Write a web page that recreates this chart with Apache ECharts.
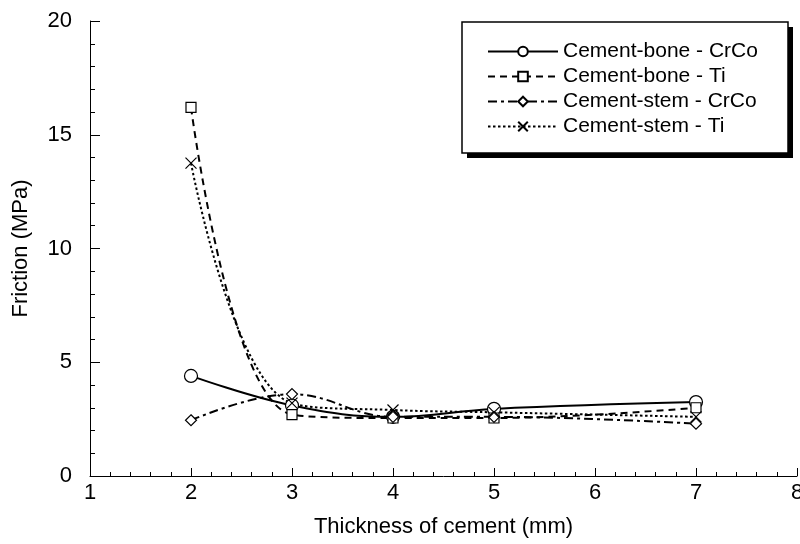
<!DOCTYPE html>
<html><head><meta charset="utf-8">
<script src="https://cdn.jsdelivr.net/npm/echarts@6/dist/echarts.min.js"></script>
<style>html,body{margin:0;padding:0;background:#fff}#c{width:800px;height:544px}</style>
</head><body><div id="c"></div>
<script>
const thickness = [2, 3, 4, 5, 7];
const boneCrCo = [4.4, 3.1, 2.6, 2.95, 3.25];
const boneTi = [16.2, 2.7, 2.55, 2.55, 3.0];
const stemCrCo = [2.45, 3.6, 2.6, 2.6, 2.3];
const stemTi = [13.75, 3.2, 2.9, 2.8, 2.6];
const seriesNames = ['Cement-bone - CrCo', 'Cement-bone - Ti', 'Cement-stem - CrCo', 'Cement-stem - Ti'];

const font = 'Liberation Sans, Arial, sans-serif';
const crossPath = 'path://M0,0L10,10M10,0L0,10';
function pts(arr){ return thickness.map((x,i)=>[x, arr[i]]); }
function mk(name, data, dash, symbol, size){
  return {
    name, type:'line', data: pts(data), smooth: 0.4,
    symbol, symbolSize: size, showSymbol: true,
    lineStyle: {color:'#000', width: 2, type: dash},
    itemStyle: {color: symbol===crossPath ? 'none' : '#fff', borderColor:'#000', borderWidth: 1.2},
    emphasis: {disabled: true}
  };
}
const chart = echarts.init(document.getElementById('c'));
chart.setOption({
  animation: false,
  grid: {left: 90, right: 3, top: 21, bottom: 68, containLabel: false, outerBoundsMode: 'none'},
  xAxis: {
    type: 'value', min: 1, max: 8, interval: 1,
    name: 'Thickness of cement (mm)', nameLocation: 'middle', nameGap: 40,
    nameTextStyle: {fontFamily: font, fontSize: 22, color: '#000'},
    axisLine: {lineStyle: {color: '#000', width: 1}},
    axisTick: {inside: true, length: 8, lineStyle: {color: '#000'}},
    minorTick: {show: true, splitNumber: 5, length: 4, lineStyle: {color: '#000'}},
    axisLabel: {fontFamily: font, fontSize: 22, color: '#000', margin: 6},
    splitLine: {show: false}
  },
  yAxis: {
    type: 'value', min: 0, max: 20, interval: 5,
    name: 'Friction (MPa)', nameLocation: 'middle', nameGap: 58,
    nameTextStyle: {fontFamily: font, fontSize: 22, color: '#000'},
    axisLine: {show: true, lineStyle: {color: '#000', width: 1}},
    axisTick: {show: true, inside: true, length: 10, lineStyle: {color: '#000'}},
    minorTick: {show: true, splitNumber: 5, length: 5, lineStyle: {color: '#000'}},
    axisLabel: {fontFamily: font, fontSize: 22, color: '#000', margin: 18},
    splitLine: {show: false}
  },
  graphic: [
    {type: 'rect', z: 1, shape: {x: 467, y: 27, width: 326, height: 131}, style: {fill: '#000'}},
    {type: 'rect', z: 2, shape: {x: 462, y: 22, width: 326, height: 131}, style: {fill: '#fff', stroke: '#000', lineWidth: 1.5}}
  ],
  legend: {
    orient: 'vertical', left: 482, top: 36, z: 10,
    itemWidth: 70, itemHeight: 12, itemGap: 4,
    textStyle: {fontFamily: font, fontSize: 21, color: '#000', lineHeight: 21},
    data: seriesNames
  },
  series: [
    mk(seriesNames[0], boneCrCo, 'solid', 'circle', 13),
    mk(seriesNames[1], boneTi, [7,5], 'rect', 10),
    mk(seriesNames[2], stemCrCo, [9,4,3,4], 'diamond', 11),
    mk(seriesNames[3], stemTi, [2.5,2.5], crossPath, 11)
  ]
});
</script></body></html>
